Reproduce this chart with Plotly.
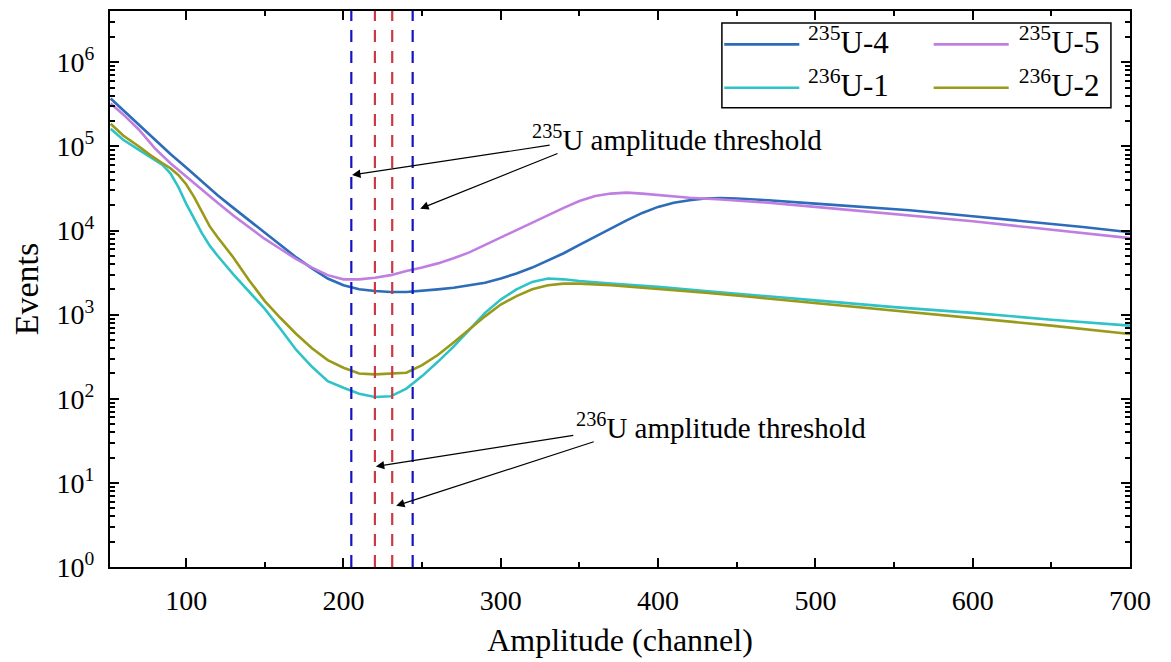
import plotly.graph_objects as go

# ---------------- data ----------------
ch_235u4 = [52, 60, 70, 80, 90, 100, 110, 120, 130, 140, 150, 160, 170, 180, 190, 200, 210, 220, 230, 240,
            250, 260, 270, 280, 290, 300, 310, 320, 330, 340, 350, 360, 370, 380, 390, 400, 410, 420, 430, 440,
            450, 470, 500, 530, 560, 600, 640, 670, 700]
ev_235u4 = [371000, 269000, 182000, 120000, 81300, 56200, 38000, 26300, 18600, 13200, 9330, 6760, 4790, 3550,
            2690, 2240, 2000, 1910, 1860, 1860, 1910, 2000, 2090, 2240, 2400, 2690, 3090, 3630, 4370, 5370, 6760,
            8510, 10700, 13200, 16200, 19100, 21400, 22900, 24000, 24300, 24000, 22900, 20900, 19100, 17400, 14800,
            12600, 11000, 9550]

ch_235u5 = [52, 60, 70, 80, 90, 100, 110, 120, 130, 140, 150, 160, 170, 180, 190, 200, 210, 220, 230, 240,
            250, 260, 270, 280, 290, 300, 310, 320, 330, 340, 350, 360, 370, 380, 390, 400, 410, 420, 440, 470,
            500, 530, 560, 600, 640, 670, 700]
ev_235u5 = [324000, 240000, 158000, 95500, 63100, 43700, 30200, 21400, 15100, 11000, 7940, 6030, 4570, 3630,
            2950, 2630, 2630, 2750, 2950, 3310, 3630, 4070, 4680, 5500, 6760, 8130, 10000, 12300, 15100, 18600,
            22400, 25700, 27500, 28200, 27500, 26300, 25400, 24500, 23400, 21400, 19100, 17000, 15100, 12900,
            10700, 9330, 8130]

ch_236u1 = [52, 60, 70, 77, 85, 90, 95, 100, 105, 110, 115, 120, 130, 140, 150, 160, 170, 180, 190, 200, 210,
            220, 230, 240, 250, 260, 270, 280, 290, 300, 310, 320, 330, 340, 350, 370, 400, 430, 460, 500, 550,
            600, 650, 700]
ev_236u1 = [162000, 120000, 91200, 75900, 60300, 47900, 33100, 20900, 13800, 9330, 6610, 5010, 3020, 1860, 1170,
            676, 380, 240, 162, 135, 115, 105, 107, 132, 186, 275, 417, 660, 1050, 1510, 2000, 2450, 2690, 2630,
            2510, 2340, 2140, 1910, 1700, 1480, 1230, 1050, 871, 741]

ch_236u2 = [52, 60, 70, 77, 85, 90, 95, 100, 105, 110, 115, 120, 130, 140, 150, 160, 170, 180, 190, 200, 210,
            220, 230, 240, 250, 260, 270, 280, 290, 300, 310, 320, 330, 340, 350, 370, 400, 430, 460, 500, 550,
            600, 650, 700]
ev_236u2 = [186000, 135000, 100000, 79400, 63100, 55000, 45700, 35500, 25100, 16600, 11200, 8320, 4790, 2570,
            1450, 912, 589, 398, 288, 234, 200, 195, 200, 204, 251, 331, 468, 676, 955, 1320, 1660, 2000, 2240,
            2340, 2340, 2240, 2040, 1820, 1620, 1380, 1120, 912, 741, 589]

series_names = ["<sup>235</sup>U-4", "<sup>235</sup>U-5", "<sup>236</sup>U-1", "<sup>236</sup>U-2"]

thresholds_235u = [205, 244]
thresholds_236u = [220, 231]

y_tick_exponents = [0, 1, 2, 3, 4, 5, 6]
x_ticks = [100, 200, 300, 400, 500, 600, 700]

# ---------------- style ----------------
FONT = "Liberation Serif"
colors = ["#2c6cb9", "#c07fe0", "#2fc3c8", "#9a9a1a"]
legends = ["legend", "legend2", "legend", "legend2"]

fig = go.Figure()
for name, xs, ys, col in zip(series_names,
                             [ch_235u4, ch_235u5, ch_236u1, ch_236u2],
                             [ev_235u4, ev_235u5, ev_236u1, ev_236u2],
                             colors):
    fig.add_trace(go.Scatter(x=xs, y=ys, mode="lines", name=name, legendgroup=name,
                             line=dict(color=col, width=2.6), showlegend=False))

# legend entries (text via the legend; long sample strokes drawn as shapes below)
for name, col, lg in zip(series_names, colors, legends):
    fig.add_trace(go.Scatter(x=[None], y=[None], mode="lines", name=name, legendgroup=name,
                             line=dict(color=col, width=0), legend=lg, hoverinfo="skip"))

# threshold dashed lines
for thr in thresholds_235u:
    fig.add_shape(type="line", xref="x", yref="paper", x0=thr, x1=thr, y0=0, y1=1,
                  line=dict(color="#1414c0", width=2.2, dash="12px,9px"))
for thr in thresholds_236u:
    fig.add_shape(type="line", xref="x", yref="paper", x0=thr, x1=thr, y0=0, y1=1,
                  line=dict(color="#c83a44", width=2.2, dash="12px,9px"))

# legend frame and legend sample strokes
fig.add_shape(type="rect", xref="paper", yref="paper", x0=0.5999, x1=0.9813, y0=0.826, y1=0.9785,
              line=dict(color="black", width=1.5), fillcolor="rgba(0,0,0,0)")
sample_pos = [(0.6022, 0.6758, 0.9400), (0.8075, 0.8811, 0.9400),
              (0.6022, 0.6758, 0.8620), (0.8075, 0.8811, 0.8620)]
for (sx0, sx1, sy), col in zip(sample_pos, colors):
    fig.add_shape(type="line", xref="paper", yref="paper", x0=sx0, x1=sx1, y0=sy, y1=sy,
                  line=dict(color=col, width=2.6))

# annotations
fig.add_annotation(x=412, y=5.10, xref="x", yref="y", text="<sup>235</sup>U amplitude threshold",
                   showarrow=False, font=dict(family=FONT, size=29, color="black"))
fig.add_annotation(x=440, y=1.68, xref="x", yref="y", text="<sup>236</sup>U amplitude threshold",
                   showarrow=False, font=dict(family=FONT, size=29, color="black"))

arrows = [
    (205.5, 4.66, 333, 5.02),
    (248.8, 4.26, 338, 4.93),
    (220.6, 1.195, 348, 1.57),
    (233.5, 0.727, 361, 1.50),
]
for hx, hy, tx, ty in arrows:
    fig.add_annotation(x=hx, y=hy, xref="x", yref="y", ax=tx, ay=ty, axref="x", ayref="y",
                       text=" ", showarrow=True, arrowhead=2, arrowsize=1.4, arrowwidth=1.2,
                       arrowcolor="black", standoff=0, startstandoff=0)

axis_common = dict(showline=True, linecolor="black", linewidth=2, mirror="allticks",
                   ticks="inside", ticklen=9, tickwidth=2, tickcolor="black",
                   showgrid=False, zeroline=False,
                   tickfont=dict(family=FONT, size=28, color="black"))

fig.update_xaxes(range=[51.6, 700], tickmode="array", tickvals=x_ticks,
                 ticktext=[str(v) for v in x_ticks],
                 minor=dict(ticks="inside", ticklen=5, tickwidth=1.5, tickcolor="black", dtick=50, tick0=0),
                 ticklabelstandoff=7,
                 title=dict(text="Amplitude (channel)", font=dict(family=FONT, size=32, color="black"),
                            standoff=14),
                 **axis_common)

minor_y = [m * 10 ** e for e in range(0, 7) for m in range(2, 10)]
fig.update_yaxes(type="log", range=[0, 6.61], tickmode="array",
                 tickvals=[10 ** e for e in y_tick_exponents],
                 ticktext=["10<sup>%d</sup>" % e for e in y_tick_exponents],
                 minor=dict(ticks="inside", ticklen=5, tickwidth=1.5, tickcolor="black", tickvals=minor_y),
                 ticklabelstandoff=8,
                 title=dict(text="Events", font=dict(family=FONT, size=34, color="black"), standoff=8),
                 **axis_common)

legend_common = dict(xanchor="left", yanchor="top", bgcolor="rgba(0,0,0,0)", borderwidth=0,
                     font=dict(family=FONT, size=31, color="black"), itemwidth=75,
                     tracegroupgap=0, orientation="v")
fig.update_layout(
    width=1171, height=662,
    margin=dict(l=110, r=41, t=9, b=95),
    paper_bgcolor="white", plot_bgcolor="white",
    font=dict(family=FONT, color="black"),
    legend=dict(x=0.601, y=0.994, **legend_common),
    legend2=dict(x=0.8075, y=0.994, **legend_common),
)

fig.write_html("out.html")
